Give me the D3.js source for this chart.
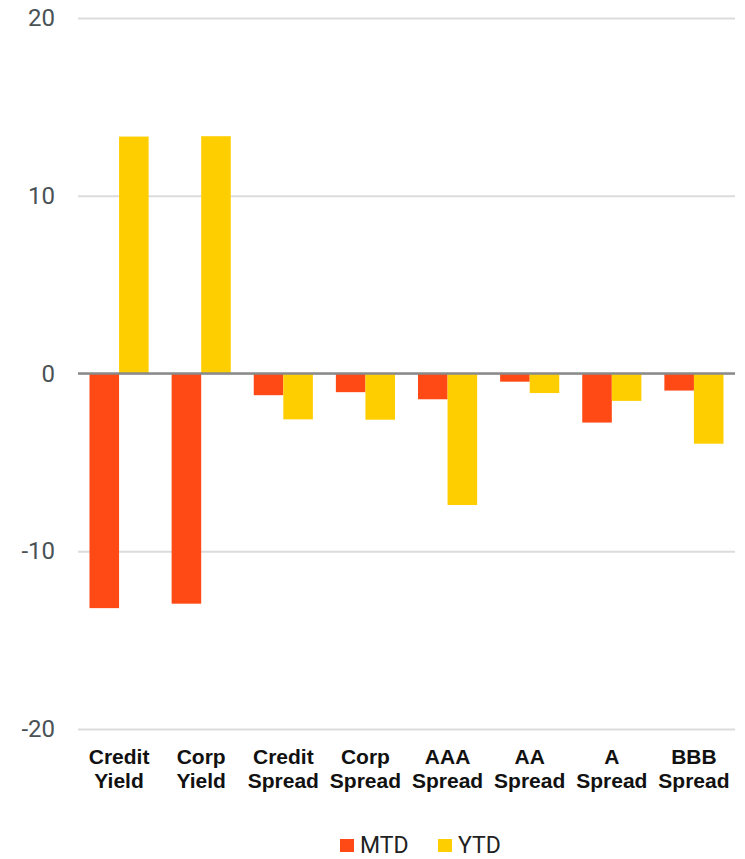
<!DOCTYPE html>
<html>
<head>
<meta charset="utf-8">
<script src="https://cdn.jsdelivr.net/npm/d3@7"></script>
<style>
  body { margin: 0; background: #fff; }
</style>
</head>
<body>
<div id="chart"></div>
<script>
const categories = [
    ['Credit', 'Yield'], ['Corp', 'Yield'], ['Credit', 'Spread'], ['Corp', 'Spread'],
    ['AAA', 'Spread'], ['AA', 'Spread'], ['A', 'Spread'], ['BBB', 'Spread']
];
const seriesNames = ['MTD', 'YTD'];
const mtdValues = [-13.2, -12.95, -1.22, -1.05, -1.45, -0.46, -2.76, -0.96];
const ytdValues = [13.33, 13.35, -2.58, -2.6, -7.4, -1.1, -1.54, -3.95];
const yTicks = [-20, -10, 0, 10, 20];
const colors = ['#ff4a15', '#ffce00'];

const W = 745, H = 859,
    margin = { top: 18, right: 10, bottom: 130, left: 78 },
    width = W - margin.left - margin.right,
    height = 729 - margin.top;

const svg = d3.select('#chart')
    .append('svg')
        .attr('width', W)
        .attr('height', H)
    .append('g')
        .attr('transform', `translate(${margin.left}, ${margin.top})`);

const keys = categories.map(function(c) { return c.join(' '); });
const data = keys.map(function(k, i) { return { key: k, values: [mtdValues[i], ytdValues[i]] }; });

const x = d3.scaleBand()
    .domain(keys)
    .range([0, width])
    .paddingInner(0.28)
    .paddingOuter(0.14);

const xInner = d3.scaleBand()
    .domain(seriesNames)
    .range([0, x.bandwidth()]);

const y = d3.scaleLinear()
    .domain([-20, 20])
    .range([height, 0]);

// grid
svg.append('g')
    .call(d3.axisLeft(y).tickValues(yTicks).tickSize(-width).tickFormat(d3.format('d')))
    .call(g => g.select('.domain').remove())
    .call(g => g.selectAll('.tick line').attr('stroke', '#dcdcdc').attr('stroke-width', 2))
    .call(g => g.selectAll('.tick text')
        .attr('x', -23)
        .attr('fill', '#4a5256')
        .attr('font-family', 'Roboto, "Liberation Sans", sans-serif')
        .attr('font-size', '24px')
        .text(function(d) { return d < 0 ? '-' + Math.abs(d) : d; }));

// bars
const groups = svg.selectAll('.group')
    .data(data)
    .enter()
    .append('g')
        .attr('transform', function(d) { return `translate(${x(d.key)}, 0)`; });

groups.selectAll('rect')
    .data(function(d) { return d.values.map(function(v, i) { return { name: seriesNames[i], value: v, i: i }; }); })
    .enter()
    .append('rect')
        .attr('x', function(d) { return xInner(d.name); })
        .attr('width', xInner.bandwidth())
        .attr('y', function(d) { return y(Math.max(0, d.value)); })
        .attr('height', function(d) { return Math.abs(y(d.value) - y(0)); })
        .attr('fill', function(d) { return colors[d.i]; });

// zero line
svg.append('line')
    .attr('x1', 0)
    .attr('x2', width)
    .attr('y1', y(0))
    .attr('y2', y(0))
    .attr('stroke', '#8a8a8a')
    .attr('stroke-width', 2.5);

// category labels
const labels = svg.append('g')
    .selectAll('text')
    .data(categories)
    .enter()
    .append('text')
        .attr('x', function(d, i) { return x(keys[i]) + x.bandwidth() / 2; })
        .attr('y', height + 35)
        .attr('text-anchor', 'middle')
        .attr('font-family', '"Liberation Sans", Arial, sans-serif')
        .attr('font-weight', 'bold')
        .attr('font-size', '21px')
        .attr('fill', '#111');

labels.append('tspan')
    .attr('x', function(d, i) { return x(keys[i]) + x.bandwidth() / 2; })
    .text(function(d) { return d[0]; });
labels.append('tspan')
    .attr('x', function(d, i) { return x(keys[i]) + x.bandwidth() / 2; })
    .attr('dy', 24)
    .text(function(d) { return d[1]; });

// legend
const legend = svg.append('g')
    .attr('transform', `translate(${340 - margin.left}, ${839 - margin.top})`);

const legendX = [0, 98];
seriesNames.forEach(function(name, i) {
    const item = legend.append('g').attr('transform', `translate(${legendX[i]}, 0)`);
    item.append('rect')
        .attr('width', 14)
        .attr('height', 13)
        .attr('fill', colors[i]);
    item.append('text')
        .attr('x', 20)
        .attr('y', 14)
        .attr('font-family', 'Roboto, "Liberation Sans", sans-serif')
        .attr('font-size', '23px')
        .attr('fill', '#222')
        .text(name);
});
</script>
</body>
</html>
